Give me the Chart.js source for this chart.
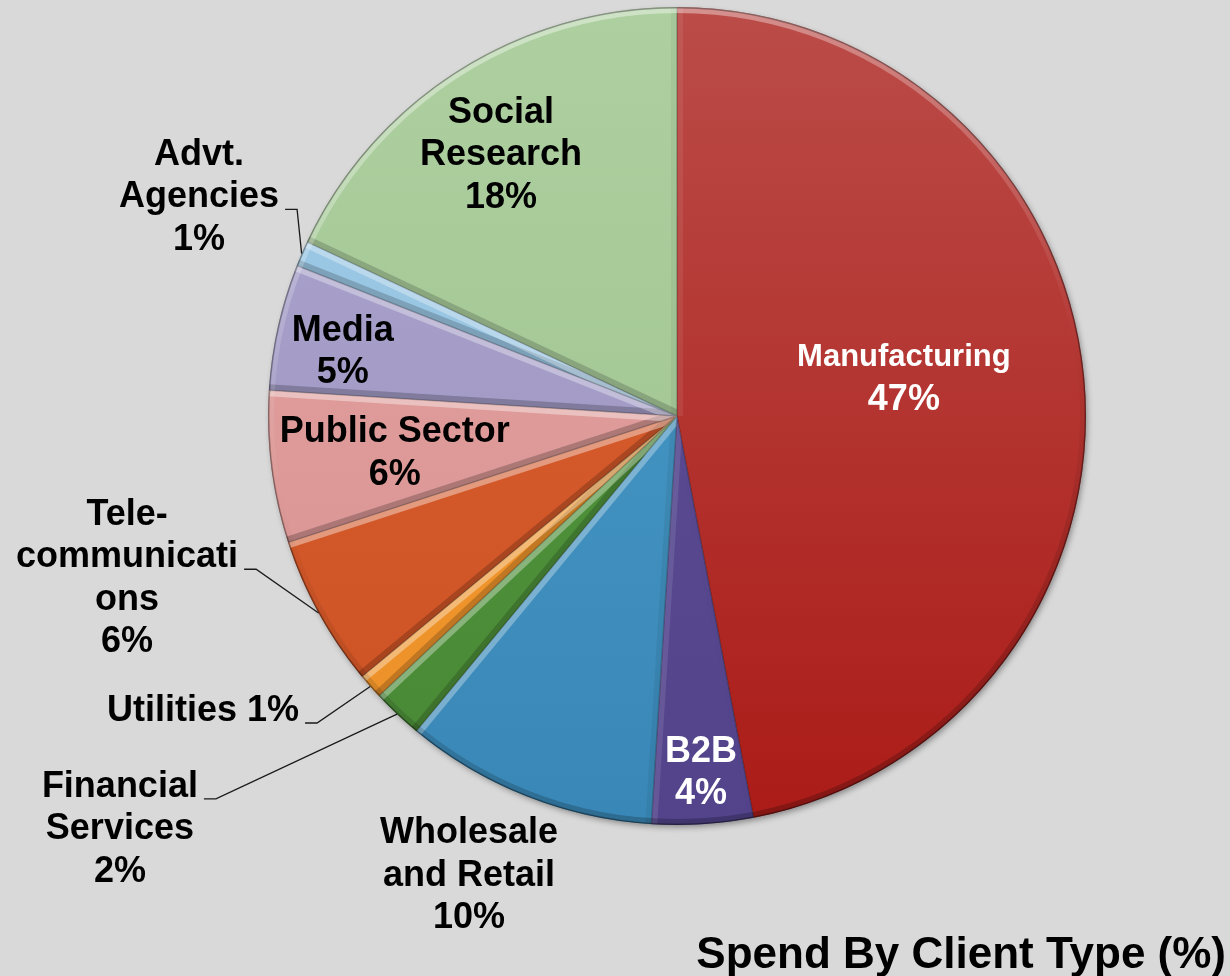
<!DOCTYPE html>
<html>
<head>
<meta charset="utf-8">
<title>Spend By Client Type</title>
<script src="https://cdn.jsdelivr.net/npm/chart.js@4.4.1/dist/chart.umd.min.js"></script>
<style>
    html, body { margin: 0; padding: 0; background: #d9d9d9; }
    #wrap { width: 1230px; height: 976px; position: relative; }
</style>
</head>
<body>
<div id="wrap"><canvas id="myChart"></canvas></div>
<script>
// data
const categories = ['Manufacturing', 'B2B', 'Wholesale and Retail', 'Financial Services', 'Utilities',
    'Telecommunications', 'Public Sector', 'Media', 'Advt. Agencies', 'Social Research'];
const shares = [47, 4, 10, 2, 1, 6, 6, 5, 1, 18];
const labelLines = [['Manufacturing'], ['B2B'], ['Wholesale', 'and Retail'], ['Financial', 'Services'], ['Utilities'],
    ['Tele-', 'communicati', 'ons'], ['Public Sector'], ['Media'], ['Advt.', 'Agencies'], ['Social', 'Research']];
const percentInline = [false, false, false, false, true, false, false, false, false, false];
const chartTitle = 'Spend By Client Type (%)';

// look: each slice fades from a top colour to a bottom colour
const sliceTop = ['#bb4c48', '#5f5097', '#4b9dcb', '#559b40', '#f59d32', '#da6133', '#e2a3a1', '#aaa3cc', '#9ecbe7', '#aed0a0'];
const sliceBottom = ['#ab1b17', '#52438b', '#3987b6', '#488835', '#ec9028', '#cd5223', '#d99290', '#9d95c1', '#90bddc', '#9dc08e'];
const labelColors = ['#ffffff', '#ffffff', '#000000', '#000000', '#000000', '#000000', '#000000', '#000000', '#000000', '#000000'];
// rf = distance from centre in radii, da = degrees past the middle of the slice, lead = line that gets a leader
const labelLayout = [
    { rf: 0.562, da: -3.86, nameSize: 31 },
    { rf: 0.875, da: -0.25 },
    { rf: 1.234, da: 2.74 },
    { rf: 1.696, da: 10.23, lead: 0 },
    { rf: 1.365, da: 9.5, lead: 0 },
    { rf: 1.402, da: 12.34, lead: 1 },
    { rf: 0.696, da: -0.37 },
    { rf: 0.832, da: -1.75 },
    { rf: 1.285, da: 1.18, lead: 1 },
    { rf: 0.769, da: -1.64 }
];
const fontFamily = '"Liberation Sans", Arial, sans-serif';
const lineHeight = 42.5;

function sliceFill(context) {
    const chart = context.chart;
    const area = chart.chartArea;
    const i = context.dataIndex;
    if (!area) return sliceTop[i];
    const g = chart.ctx.createLinearGradient(0, area.top, 0, area.bottom);
    g.addColorStop(0, sliceTop[i]);
    g.addColorStop(1, sliceBottom[i]);
    return g;
}

// light comes from above, slightly to the left
const light = { x: -0.2, y: -0.98 };
function bevelShade(nx, ny) {
    const k = nx * light.x + ny * light.y;
    return k >= 0 ? 'rgba(255,255,255,' + (0.4 * k).toFixed(3) + ')' : 'rgba(0,0,0,' + (0.22 * -k).toFixed(3) + ')';
}

const pieShadow = {
    id: 'pieShadow',
    beforeDatasetsDraw(chart) {
        const arc = chart.getDatasetMeta(0).data[0];
        if (!arc) return;
        const ctx = chart.ctx;
        ctx.save();
        ctx.shadowColor = 'rgba(0,0,0,0.4)';
        ctx.shadowBlur = 6;
        ctx.shadowOffsetX = 2;
        ctx.shadowOffsetY = 3;
        ctx.fillStyle = '#777777';
        ctx.beginPath();
        ctx.arc(arc.x, arc.y, arc.outerRadius - 1, 0, Math.PI * 2);
        ctx.fill();
        ctx.restore();
    }
};

const bevel = {
    id: 'bevel',
    afterDatasetsDraw(chart) {
        const ctx = chart.ctx;
        const arcs = chart.getDatasetMeta(0).data;
        const w = 6;
        arcs.forEach(arc => {
            const p = arc.getProps(['x', 'y', 'startAngle', 'endAngle', 'outerRadius'], true);
            ctx.save();
            ctx.beginPath();
            ctx.moveTo(p.x, p.y);
            ctx.arc(p.x, p.y, p.outerRadius, p.startAngle, p.endAngle);
            ctx.closePath();
            ctx.clip();
            ctx.lineWidth = w * 2;
            [[p.startAngle, 1], [p.endAngle, -1]].forEach(([a, s]) => {
                ctx.strokeStyle = bevelShade(s * Math.sin(a), -s * Math.cos(a));
                ctx.beginPath();
                ctx.moveTo(p.x, p.y);
                ctx.lineTo(p.x + Math.cos(a) * p.outerRadius, p.y + Math.sin(a) * p.outerRadius);
                ctx.stroke();
            });
            ctx.lineWidth = 1.5;
            ctx.strokeStyle = 'rgba(0,0,0,0.22)';
            ctx.beginPath();
            ctx.moveTo(p.x, p.y);
            ctx.arc(p.x, p.y, p.outerRadius, p.startAngle, p.endAngle);
            ctx.closePath();
            ctx.stroke();
            ctx.restore();
        });
        // rim all the way round
        const a0 = arcs[0];
        const g = ctx.createConicGradient(0, a0.x, a0.y);
        for (let i = 0; i <= 48; i++) {
            const t = i / 48, a = t * Math.PI * 2;
            g.addColorStop(t, bevelShade(Math.cos(a), Math.sin(a)));
        }
        ctx.save();
        ctx.strokeStyle = g;
        ctx.lineWidth = w;
        ctx.beginPath();
        ctx.arc(a0.x, a0.y, a0.outerRadius - w / 2, 0, Math.PI * 2);
        ctx.stroke();
        ctx.lineWidth = 1.5;
        ctx.strokeStyle = 'rgba(0,0,0,0.3)';
        ctx.beginPath();
        ctx.arc(a0.x, a0.y, a0.outerRadius - 0.75, 0, Math.PI * 2);
        ctx.stroke();
        ctx.restore();
    }
};

const sliceLabels = {
    id: 'sliceLabels',
    afterDraw(chart) {
        const ctx = chart.ctx;
        chart.getDatasetMeta(0).data.forEach((arc, i) => {
            const lay = labelLayout[i];
            const mid = (arc.startAngle + arc.endAngle) / 2;
            const ang = mid + lay.da * Math.PI / 180;
            const cx = arc.x + Math.cos(ang) * arc.outerRadius * lay.rf;
            const cy = arc.y + Math.sin(ang) * arc.outerRadius * lay.rf;
            const lines = labelLines[i].slice();
            const pct = shares[i] + '%';
            if (percentInline[i]) lines[lines.length - 1] += ' ' + pct;
            else lines.push(pct);
            const top = cy - (lines.length - 1) * lineHeight / 2;

            ctx.save();
            ctx.fillStyle = labelColors[i];
            ctx.textAlign = 'center';
            ctx.textBaseline = 'middle';
            lines.forEach((t, k) => {
                const size = (k === 0 && lay.nameSize) ? lay.nameSize : 36;
                ctx.font = 'bold ' + size + 'px ' + fontFamily;
                ctx.fillText(t, cx, top + k * lineHeight);
            });
            if (lay.lead != null) {
                ctx.font = 'bold 36px ' + fontFamily;
                const tw = ctx.measureText(lines[lay.lead]).width;
                const sx = cx + tw / 2 + 6;
                const sy = top + lay.lead * lineHeight + 12;
                const ex = arc.x + Math.cos(mid) * arc.outerRadius;
                const ey = arc.y + Math.sin(mid) * arc.outerRadius;
                ctx.strokeStyle = '#1a1a1a';
                ctx.lineWidth = 1.3;
                ctx.beginPath();
                ctx.moveTo(sx, sy);
                ctx.lineTo(sx + 12, sy);
                ctx.lineTo(ex, ey);
                ctx.stroke();
            }
            ctx.restore();
        });

        ctx.save();
        ctx.fillStyle = '#000000';
        ctx.font = 'bold 44px ' + fontFamily;
        ctx.textAlign = 'right';
        ctx.textBaseline = 'alphabetic';
        ctx.fillText(chartTitle, chart.width - 4, 968);
        ctx.restore();
    }
};

var ctx = document.getElementById('myChart').getContext('2d');
var myPieChart = new Chart(ctx, {
    type: 'pie',
    data: {
        labels: categories,
        datasets: [{
            data: shares,
            backgroundColor: sliceFill,
            borderWidth: 0
        }]
    },
    options: {
        responsive: true,
        maintainAspectRatio: false,
        animation: false,
        layout: { padding: { left: 268, right: 144, top: 7, bottom: 151 } },
        plugins: {
            legend: { display: false },
            tooltip: { enabled: false }
        }
    },
    plugins: [pieShadow, bevel, sliceLabels]
});
</script>
</body>
</html>
